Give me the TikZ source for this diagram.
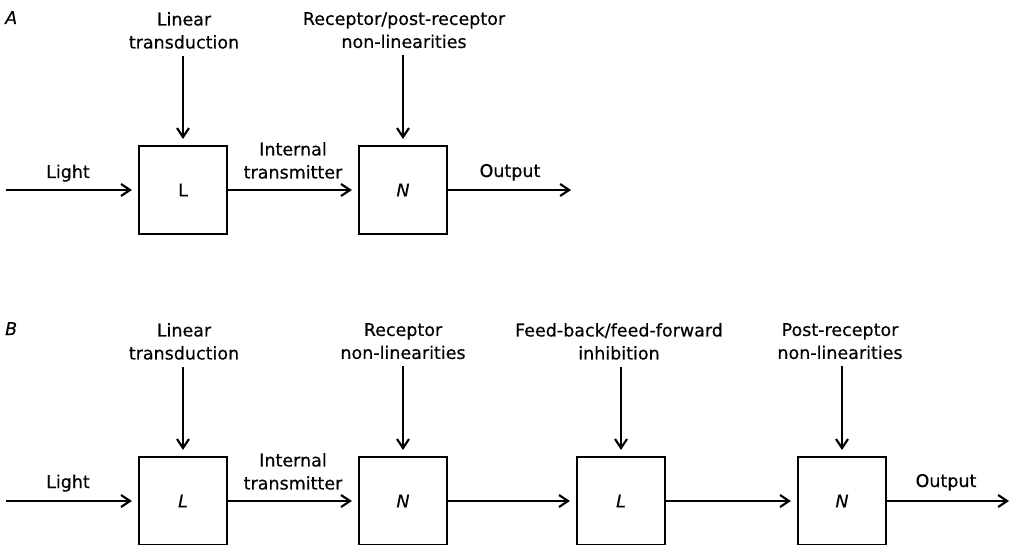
\documentclass[tikz,border=0pt]{standalone}
\usepackage{fontspec}
\setmainfont{DejaVu Sans}[FakeBold=0.35]
\usetikzlibrary{arrows.meta}
\begin{document}
\begin{tikzpicture}[x=1pt,y=-1pt,
  every node/.style={font=\fontsize{17.5}{23}\selectfont, inner sep=0pt},
  blk/.style={draw, line width=2.2pt, minimum width=88pt, minimum height=88pt},
  lab/.style={anchor=north, align=center},
  arr/.style={line width=2.1pt, -{Straight Barb[length=9pt,width=12pt]}, shorten >=6pt},
  dn/.style={arr, shorten <=7pt}]
\useasboundingbox (0,0) rectangle (1011,545);
% ---------- Panel A ----------
\node[anchor=base west] (pA) at (5,24) {\itshape A};
\node[blk] (aL) at (183,190) {L};
\node[blk] (aN) at (403,190) {\itshape N};
\node[lab] (aT1) at (184,12) {Linear\\transduction};
\node[lab] (aT2) at (404,12) {Receptor/post-receptor\\non-linearities};
\node[anchor=base] (aLight) at (68,178) {Light};
\node[lab] (aInt) at (293,142) {Internal\\transmitter};
\node[anchor=base] (aOut) at (510,177) {Output};
\coordinate (aIn) at (6,190);
\coordinate (aEnd) at (571,190);
\draw[arr] (aIn) -- (aL);
\draw[arr] (aL) -- (aN);
\draw[arr, shorten >=0pt] (aN) -- (aEnd);
\draw[dn] (aT1.south -| aL) -- (aL);
\draw[dn] (aT2.south -| aN) -- (aN);
% ---------- Panel B ----------
\node[anchor=base west] (pB) at (5,335) {\itshape B};
\node[blk] (bL1) at (183,501) {\itshape L};
\node[blk] (bN1) at (403,501) {\itshape N};
\node[blk] (bL2) at (621,501) {\itshape L};
\node[blk] (bN2) at (842,501) {\itshape N};
\node[lab] (bT1) at (184,323) {Linear\\transduction};
\node[lab] (bT2) at (403,323) {Receptor\\non-linearities};
\node[lab] (bT3) at (619,323) {Feed-back/feed-forward\\inhibition};
\node[lab] (bT4) at (840,323) {Post-receptor\\non-linearities};
\node[anchor=base] (bLight) at (68,488) {Light};
\node[lab] (bInt) at (293,453) {Internal\\transmitter};
\node[anchor=base] (bOut) at (946,487) {Output};
\coordinate (bIn) at (6,501);
\coordinate (bEnd) at (1009,501);
\draw[arr] (bIn) -- (bL1);
\draw[arr] (bL1) -- (bN1);
\draw[arr] (bN1) -- (bL2);
\draw[arr] (bL2) -- (bN2);
\draw[arr, shorten >=0pt] (bN2) -- (bEnd);
\draw[dn] (bT1.south -| bL1) -- (bL1);
\draw[dn] (bT2.south -| bN1) -- (bN1);
\draw[dn] (bT3.south -| bL2) -- (bL2);
\draw[dn] (bT4.south -| bN2) -- (bN2);
\end{tikzpicture}
\end{document}
